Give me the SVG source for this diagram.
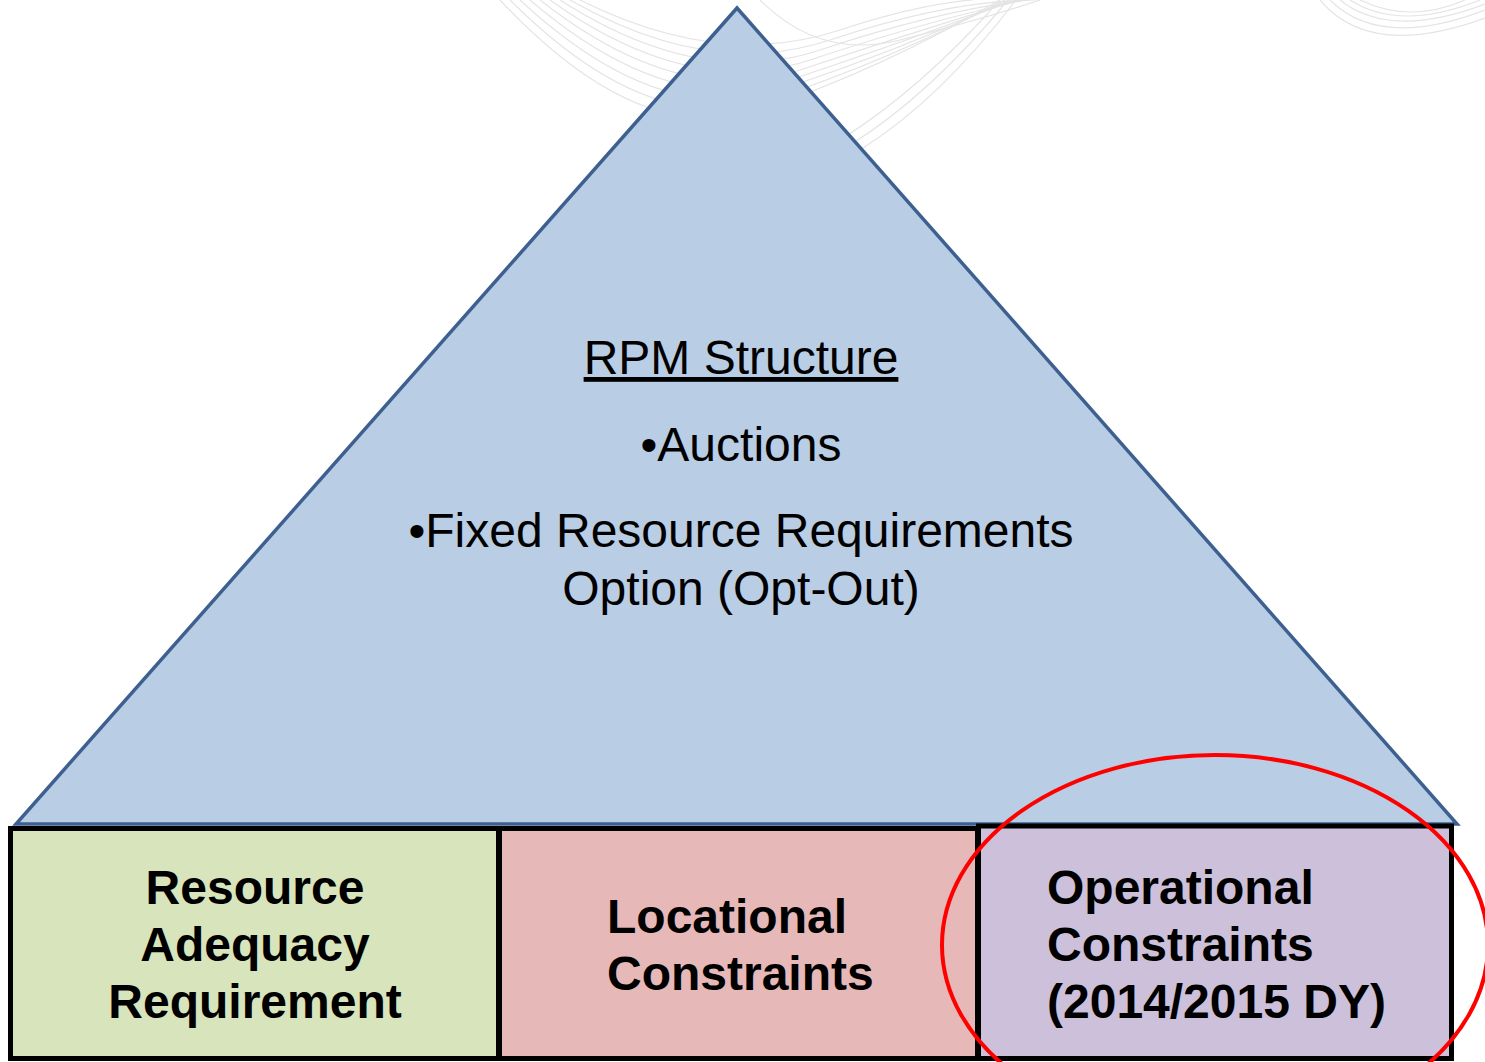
<svg xmlns="http://www.w3.org/2000/svg" width="1485" height="1062" viewBox="0 0 1485 1062">
<defs>
<style>
.bg{fill:none;stroke:#e4e4e4;stroke-width:1.2}
.tri{fill:#b9cde4;stroke:#3e6090;stroke-width:3.5;stroke-linejoin:miter}
.box{stroke:#000;stroke-width:5}
.t{font-family:"Liberation Sans",Arial,sans-serif;font-size:48px;fill:#000}
.b{font-family:"Liberation Sans",Arial,sans-serif;font-size:48px;font-weight:bold;fill:#000}
</style>
</defs>
<rect width="1485" height="1062" fill="#fff"/>
<g id="background">
<path class="bg" d="M500 0 Q640 150 760 110 T1000 0"/>
<path class="bg" d="M510 0 Q650 140 770 100 T1005 0"/>
<path class="bg" d="M520 0 Q660 130 780 90 T1010 0"/>
<path class="bg" d="M530 0 Q670 120 790 80 T1015 0"/>
<path class="bg" d="M540 0 Q680 110 800 70 T1020 0"/>
<path class="bg" d="M550 0 Q690 100 810 60 T1025 0"/>
<path class="bg" d="M560 0 Q700 90 820 50 T1030 0"/>
<path class="bg" d="M570 0 Q710 80 830 40 T1035 0"/>
<path class="bg" d="M580 0 Q720 70 840 30 T1040 0"/>
<path class="bg" d="M760 0 Q820 60 900 40 T1040 0"/>
<path class="bg" d="M840 140 Q920 90 1000 0"/>
<path class="bg" d="M850 145 Q930 95 1008 0"/>
<path class="bg" d="M860 150 Q940 100 1016 0"/>
<path class="bg" d="M1330 0 Q1380 50 1485 10"/>
<path class="bg" d="M1340 0 Q1390 40 1485 4"/>
<path class="bg" d="M1350 0 Q1400 32 1480 0"/>
<path class="bg" d="M1320 0 Q1370 60 1485 18"/>
<path class="bg" d="M1360 0 Q1410 24 1465 0"/>
</g>
<g id="pyramid">
<polygon class="tri" points="737,8 16,824 1457,824"/>
<text class="t" x="741" y="374" text-anchor="middle" text-decoration="underline">RPM Structure</text>
<text class="t" x="741" y="461" text-anchor="middle">•Auctions</text>
<text class="t" x="741" y="547" text-anchor="middle">•Fixed Resource Requirements</text>
<text class="t" x="741" y="605" text-anchor="middle">Option (Opt-Out)</text>
</g>
<g id="resource-adequacy">
<rect class="box" x="10.5" y="828.5" width="488" height="230" fill="#d8e4bc"/>
<text class="b" x="255" y="904" text-anchor="middle">Resource</text>
<text class="b" x="255" y="961" text-anchor="middle">Adequacy</text>
<text class="b" x="255" y="1018" text-anchor="middle">Requirement</text>
</g>
<g id="locational">
<rect class="box" x="499.5" y="828.5" width="478" height="230" fill="#e6b8b7"/>
<text class="b" x="607" y="933">Locational</text>
<text class="b" x="607" y="990">Constraints</text>
</g>
<g id="operational">
<rect class="box" x="978.5" y="826" width="473" height="232.5" fill="#ccc0da"/>
<text class="b" x="1047" y="904">Operational</text>
<text class="b" x="1047" y="961">Constraints</text>
<text class="b" x="1047" y="1018">(2014/2015 DY)</text>
</g>
<g id="connectors">
<ellipse cx="1215" cy="945" rx="273" ry="190" fill="none" stroke="#ff0000" stroke-width="4"/>
</g>
</svg>
